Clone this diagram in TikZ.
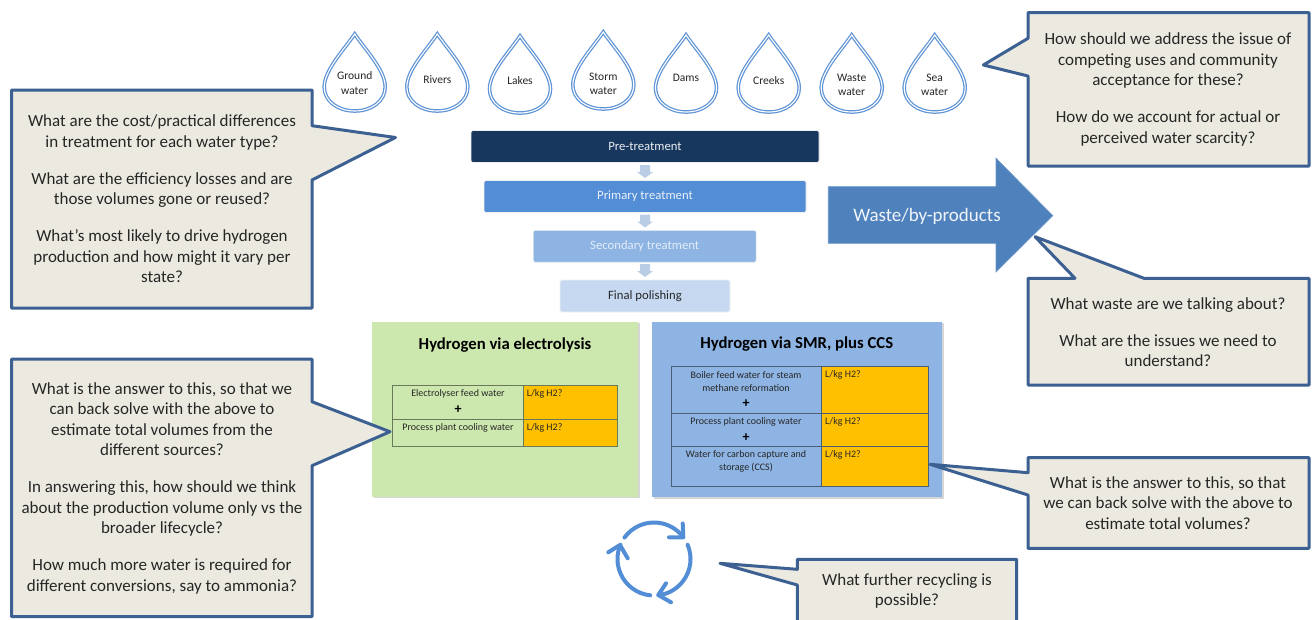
\documentclass[tikz,border=0pt]{standalone}
\usepackage{fontspec}
\setmainfont{Carlito}
\definecolor{calloutline}{HTML}{3B6091}
\definecolor{calloutfill}{HTML}{ECEAE0}
\definecolor{dropblue}{HTML}{5F94D6}
\definecolor{navy}{HTML}{17375E}
\definecolor{midblue}{HTML}{538DD5}
\definecolor{softblue}{HTML}{8EB4E3}
\definecolor{paleblue}{HTML}{C6D9F1}
\definecolor{flowarrow}{HTML}{B9CDE5}
\definecolor{greenbox}{HTML}{CDE8AF}
\definecolor{amber}{HTML}{FFC000}
\definecolor{bigblue}{HTML}{4F81BD}
\definecolor{textdark}{HTML}{262626}
\tikzset{
  callout/.style={draw=calloutline,fill=calloutfill,line width=3pt,line join=round},
  callouttext/.style={align=center,font=\fontsize{17}{20.5}\selectfont,text=textdark,inner sep=0pt},
  droppath/.style={draw=dropblue,line width=3.6pt,fill=white,line join=miter},
  dropinner/.style={draw=white,line width=1.1pt},
  droptext/.style={align=center,font=\fontsize{11.5}{14.5}\selectfont,text=textdark,inner sep=0pt},
  stage/.style={rounded corners=2pt,draw=black!6,line width=0.8pt,minimum height=32pt,inner sep=0pt,font=\fontsize{12.7}{14}\selectfont},
  flow/.style={fill=flowarrow,draw=none},
  panelshadow/.style={fill=black!16,draw=none},
  title/.style={font=\fontsize{16.7}{20}\selectfont\bfseries,text=black,inner sep=0pt},
  cell/.style={draw=black!48!greenbox,line width=1pt},
  bluecell/.style={draw=black!48!softblue,line width=1pt},
  celltext/.style={align=center,font=\fontsize{10}{13}\selectfont,text=textdark,inner sep=0pt},
  qtext/.style={anchor=west,font=\fontsize{10}{13}\selectfont,text=textdark,inner sep=0pt},
  plusmark/.style={font=\fontsize{14}{14}\selectfont\bfseries,text=black,inner sep=0pt},
  recycle/.style={draw=midblue,line width=4pt,line cap=round,line join=round},
}
\newcommand{\dropoutline}[2]{(#1,#2) .. controls (#1-10,#2+15) and (#1-30.5,#2+36) .. (#1-30.5,#2+53)
    .. controls (#1-30.5,#2+67) and (#1-17,#2+77) .. (#1,#2+77)
    .. controls (#1+17,#2+77) and (#1+30.5,#2+67) .. (#1+30.5,#2+53)
    .. controls (#1+30.5,#2+36) and (#1+10,#2+15) .. (#1,#2) -- cycle}
\newcommand{\waterdrop}[5]{%
  % name, cx, tip y, text y, text
  \path[droppath] \dropoutline{#2}{#3};
  \path[dropinner] \dropoutline{#2}{#3};
  \node[droptext] (#1) at (#2,#4) {#5};
}
\newcommand{\flowarrow}[2]{%
  \path[flow] (#1-5,#2) -- (#1+5,#2) -- (#1+5,#2+7) -- (#1+8,#2+7) -- (#1,#2+13) -- (#1-8,#2+7) -- (#1-5,#2+7) -- cycle;
}
\begin{document}
\begin{tikzpicture}[x=1pt,y=-1pt]
\useasboundingbox (0,0) rectangle (1316,619);
\clip (0,0) rectangle (1316,619);

% water drops
\waterdrop{d1}{354.7}{34}{83}{Ground\\water}
\waterdrop{d2}{437.3}{34}{79.5}{Rivers}
\waterdrop{d3}{520}{36}{81}{Lakes}
\waterdrop{d4}{603.3}{32}{84}{Storm\\water}
\waterdrop{d5}{686}{35}{78}{Dams}
\waterdrop{d6}{768.7}{35}{80.5}{Creeks}
\waterdrop{d7}{851.7}{35}{85}{Waste\\water}
\waterdrop{d8}{934.7}{35}{85}{Sea\\water}

% treatment stages
\node[stage,fill=navy,text=white!92!navy,minimum width=348pt] (pre) at (645,146.5) {Pre-treatment};
\node[stage,fill=midblue,text=white!88!midblue,minimum width=322pt] (prim) at (645,196.5) {Primary treatment};
\node[stage,fill=softblue,text=white!75!softblue,minimum width=223pt] (sec) at (644.7,246.3) {Secondary treatment};
\node[stage,fill=paleblue,text=textdark,minimum width=170pt] (fin) at (645,296) {Final polishing};
\flowarrow{645}{165}
\flowarrow{645}{214.5}
\flowarrow{645}{264}

% big arrow
\path[fill=bigblue,draw=bigblue!85!white,line width=0.8pt,line join=miter]
  (828.3,186.7) -- (996,186.7) -- (996,158.3) -- (1052.7,215.7) -- (996,271.7) -- (996,243.3) -- (828.3,243.3) -- cycle;
\node[inner sep=0pt,text=white!92!bigblue,font=\fontsize{19}{22}\selectfont] (waste) at (927,216) {Waste/by-products};

% green panel
\fill[panelshadow] (373.5,323) rectangle (639.5,498);
\fill[greenbox] (372.3,321.7) rectangle (638.3,496.7);
\node[title] (t1) at (505,345) {Hydrogen via electrolysis};
\fill[amber] (523.3,385.3) rectangle (617.3,446.7);
\draw[cell] (392.3,385.3) rectangle (617.3,446.7);
\draw[cell] (392.3,419.3) -- (617.3,419.3);
\draw[cell] (523.3,385.3) -- (523.3,446.7);
\node[celltext] (e1) at (458,394) {Electrolyser feed water};
\node[plusmark] (e2) at (458,410) {+};
\node[celltext] (e3) at (458,427.5) {Process plant cooling water};
\node[qtext] (e4) at (526.7,393.5) {L/kg H2?};
\node[qtext] (e5) at (526.7,427.5) {L/kg H2?};

% blue panel
\fill[panelshadow] (653.5,323) rectangle (943.5,498.5);
\fill[softblue] (652.3,321.7) rectangle (942.3,497.3);
\node[title] (t2) at (796.7,344) {Hydrogen via SMR, plus CCS};
\fill[amber] (821.7,366.7) rectangle (928.3,486);
\draw[bluecell] (671.3,366.7) rectangle (928.3,486);
\draw[bluecell] (671.3,413.7) -- (928.3,413.7);
\draw[bluecell] (671.3,446.7) -- (928.3,446.7);
\draw[bluecell] (821.7,366.7) -- (821.7,486);
\node[celltext] (s1) at (746,381.5) {Boiler feed water for steam\\methane reformation};
\node[plusmark] (s2) at (746,404) {+};
\node[celltext] (s3) at (746,422) {Process plant cooling water};
\node[plusmark] (s4) at (746,437.5) {+};
\node[celltext] (s5) at (746,461) {Water for carbon capture and\\storage (CCS)};
\node[qtext] (s6) at (825,375) {L/kg H2?};
\node[qtext] (s7) at (825,422) {L/kg H2?};
\node[qtext] (s8) at (825,455) {L/kg H2?};

% recycling symbol
\coordinate (rc) at (654,559);
\draw[recycle] ([shift={(144:36.5pt)}]rc) arc[start angle=144,end angle=38,radius=36.5pt];
\draw[recycle] (682.7,523.5) -- (683.3,537.3) -- (669,537.3);
\draw[recycle] ([shift={(23:36.5pt)}]rc) arc[start angle=23,end angle=-83,radius=36.5pt];
\draw[recycle] (666,583.3) -- (658.3,595) -- (671,602.3);
\draw[recycle] ([shift={(-96:36.5pt)}]rc) arc[start angle=-96,end angle=-203,radius=36.5pt];
\draw[recycle] (608.3,552.3) -- (620,545) -- (627.7,558.3);

% callouts
\path[callout] (11.5,90) -- (312,90) -- (312,125.7) -- (395.5,137.5) -- (312,180) -- (312,308) -- (11.5,308) -- cycle;
\node[callouttext] (q1) at (162,199)
 {What are the cost/practical differences\\in treatment for each water type?\\[16.5pt]
  What are the efficiency losses and are\\those volumes gone or reused?\\[16.5pt]
  What’s most likely to drive hydrogen\\production and how might it vary per\\state?};

\path[callout] (11.5,359) -- (312,359) -- (312,401.7) -- (390,431.7) -- (312,465.7) -- (312,616.7) -- (11.5,616.7) -- cycle;
\node[callouttext] (q2) at (162,488)
 {What is the answer to this, so that we\\can back solve with the above to\\estimate total volumes from the\\different sources?\\[16.5pt]
  In answering this, how should we think\\about the production volume only vs the\\broader lifecycle?\\[16.5pt]
  How much more water is required for\\different conversions, say to ammonia?};

\path[callout] (1028,12.7) -- (1309,12.7) -- (1309,166) -- (1028,166) -- (1028,76) -- (983.3,65) -- (1028,38.3) -- cycle;
\node[callouttext] (q3) at (1168,89.5)
 {How should we address the issue of\\competing uses and community\\acceptance for these?\\[16.5pt]
  How do we account for actual or\\perceived water scarcity?};

\path[callout] (1028,278.3) -- (1075,278.3) -- (1035,236.7) -- (1144,278.3) -- (1309,278.3) -- (1309,385) -- (1028,385) -- cycle;
\node[callouttext] (q4) at (1168,332)
 {What waste are we talking about?\\[16.5pt]
  What are the issues we need to\\understand?};

\path[callout] (1028,457.7) -- (1309,457.7) -- (1309,548.3) -- (1028,548.3) -- (1028,495) -- (930,464.3) -- (1028,472.7) -- cycle;
\node[callouttext] (q5) at (1168,503)
 {What is the answer to this, so that\\we can back solve with the above to\\estimate total volumes?};

\path[callout] (797.3,559.3) -- (1016.7,559.3) -- (1016.7,630) -- (797.3,630) -- (797.3,585) -- (720,563.3) -- (797.3,569.3) -- cycle;
\node[callouttext] (q6) at (907,591)
 {What further recycling is\\possible?};
\end{tikzpicture}
\end{document}
